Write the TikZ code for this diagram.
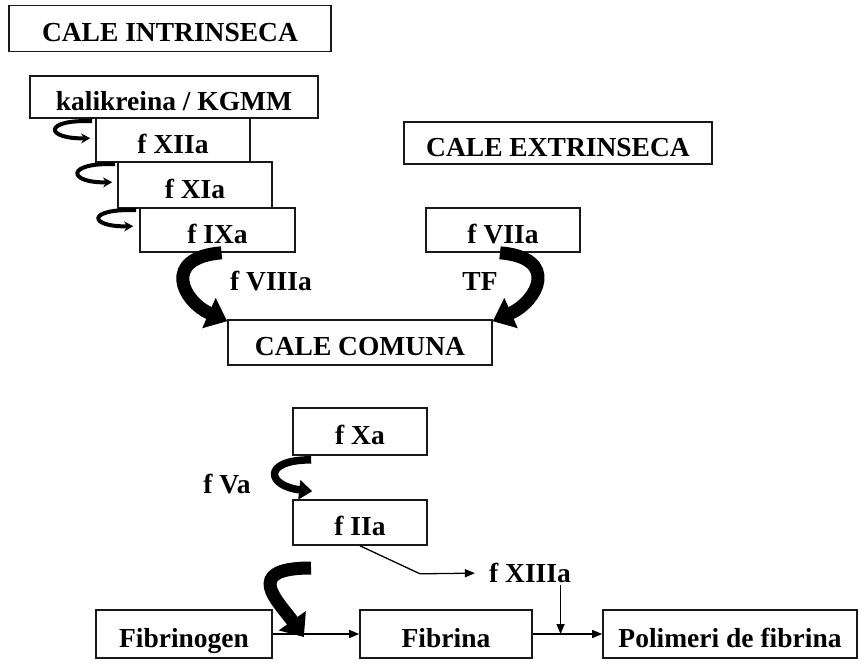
\documentclass[tikz,border=0pt]{standalone}
\usepackage{fontspec}
\setmainfont{Liberation Serif}
\usepackage{tikz}
\usetikzlibrary{arrows.meta}
\usetikzlibrary{calc}
\tikzset{
    tnode/.style = {align=center, inner sep=2pt, text centered, font=\bfseries\fontsize{27.5}{32}\selectfont},
    factor_box/.style = {tnode, rectangle, draw=black!90, line width=1.6pt, minimum height=44pt, inner sep=0pt, text height=26pt, text depth=0pt},
    small_arc/.style = {line width=4pt, -{Stealth[length=9pt,width=10pt]}},
    mid_arc/.style = {line width=7.5pt, -{Triangle[length=13pt,width=19pt]}},
    big_arc/.style = {line width=13pt, -{Triangle[length=20pt,width=32pt]}},
    thin_arrow/.style = {line width=1.3pt, -{Triangle[length=10pt,width=8pt]}}
}

\begin{document}
\begin{tikzpicture}[x=1pt, y=-1pt]
    \useasboundingbox (0,0) rectangle (859,661);

    % cale intrinseca
    \node [factor_box, minimum width=322pt, minimum height=46pt] (intr) at (170,28.5) {CALE INTRINSECA};
    \node [factor_box, minimum width=288pt, minimum height=42pt] (kalik) at (174,97) {kalikreina / KGMM};
    \node [factor_box, minimum width=154pt] (f12) at (173,140) {f XIIa};
    \node [factor_box, minimum width=154pt, minimum height=46pt] (f11) at (195,185) {f XIa};
    \node [factor_box, minimum width=155pt] (f9) at (217.5,230) {f IXa};

    % cale extrinseca
    \node [factor_box, minimum width=308pt, minimum height=42pt] (extr) at (558,143) {CALE EXTRINSECA};
    \node [factor_box, minimum width=154pt] (f7) at (503,230) {f VIIa};

    % cale comuna
    \node [factor_box, minimum width=264pt, minimum height=45pt] (comuna) at (360,342.5) {CALE COMUNA};
    \node [factor_box, minimum width=134pt, minimum height=47pt] (f10) at (360,431.5) {f Xa};
    \node [factor_box, minimum width=134pt, minimum height=45pt] (f2) at (360,522.5) {f IIa};
    \node [factor_box, minimum width=176pt, minimum height=48pt] (fibrinogen) at (184,634) {Fibrinogen};
    \node [factor_box, minimum width=172pt, minimum height=48pt] (fibrina) at (446,634) {Fibrina};
    \node [factor_box, minimum width=254pt, minimum height=48pt] (polim) at (730,634) {Polimeri de fibrina};

    % labels
    \node [tnode] (lbl8) at (271,281) {f VIIIa};
    \node [tnode] (lbltf) at (480,281) {TF};
    \node [tnode] (lbl5) at (227,484) {f Va};
    \node [tnode] (f13) at (530,573) {f XIIIa};

    % small arcs
    \draw [small_arc] ([shift={(-3,4)}]f12.north west) .. controls +(-50,-2) and +(-45,1) .. ([shift={(-5,21)}]f12.north west);
    \draw [small_arc] ([shift={(-2,3)}]f11.north west) .. controls +(-50,-2) and +(-45,1) .. ([shift={(-5,21)}]f11.north west);
    \draw [small_arc] ([shift={(-3,3)}]f9.north west) .. controls +(-50,-2) and +(-45,1) .. ([shift={(-6,19)}]f9.north west);

    % big arcs
    \draw [big_arc] ([xshift=4]f9.south) .. controls +(-60,5) and +(-45,-20) .. ([shift={(0,2)}]comuna.north west);
    \draw [big_arc] ([xshift=-3]f7.south) .. controls +(60,5) and +(45,-20) .. ([shift={(0,2)}]comuna.north east);
    \draw [mid_arc] ([shift={(19,4)}]f10.south west) .. controls +(-50,0) and +(-45,-5) .. ([shift={(20,-8)}]f2.north west);

    % fibrina
    \coordinate (join1) at ($(fibrinogen.east)!0.36!(fibrina.west)$);
    \coordinate (join2) at ($(fibrina.east)!0.4!(polim.west)$);
    \coordinate (arcstart) at (311,568);
    \draw [thin_arrow] (fibrinogen.east) -- (fibrina.west);
    \draw [thin_arrow] (fibrina.east) -- (polim.west);
    \draw [big_arc] (arcstart) .. controls +(-70,0) and +(-25,-35) .. ([yshift=-3]join1);
    \draw [thin_arrow, shorten >=12pt] (f2.south) -- ++(60,28) -- (f13.west);
    \draw [thin_arrow] (f13.south -| join2) -- (join2);
\end{tikzpicture}
\end{document}
